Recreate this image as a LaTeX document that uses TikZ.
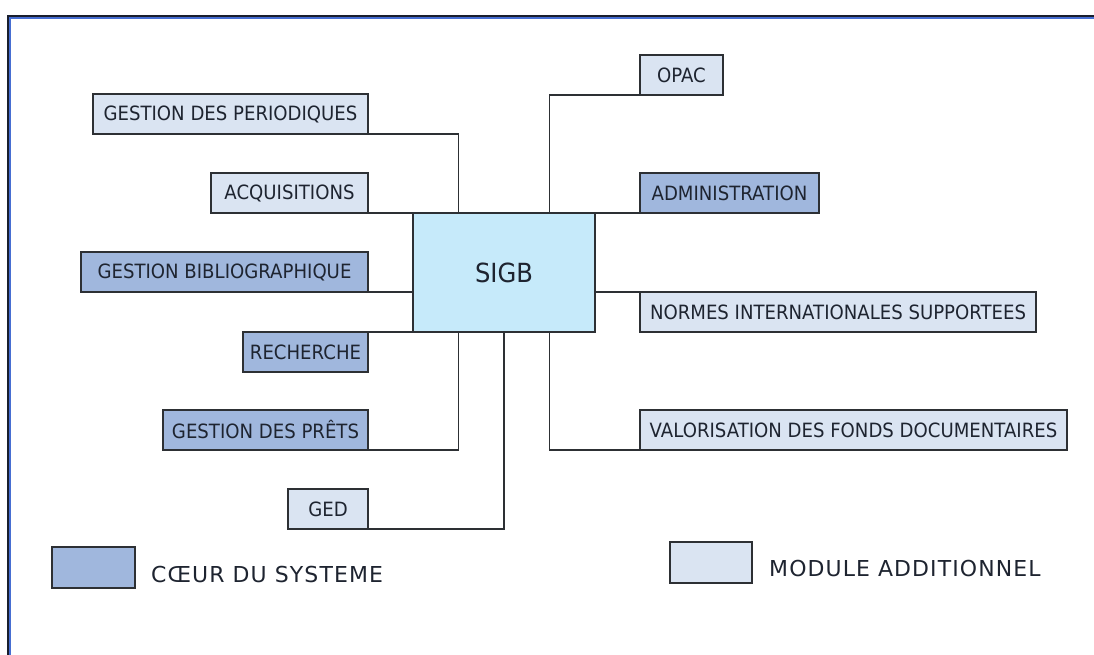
\documentclass[tikz,border=0pt]{standalone}
\usepackage{fontspec}
\setmainfont{DejaVu Sans}
\newfontfamily\boxfont[FakeStretch=0.92]{DejaVu Sans}
\newfontfamily\legendfont[LetterSpace=5]{DejaVu Sans}
\usetikzlibrary{positioning,calc}
\definecolor{sigbCyan}{RGB}{198,234,250}
\definecolor{coreBlue}{RGB}{160,183,221}
\definecolor{moduleBlue}{RGB}{218,228,242}
\definecolor{lineGray}{RGB}{45,48,52}
\definecolor{textNavy}{RGB}{30,36,48}
\definecolor{frameDark}{RGB}{25,30,45}
\definecolor{frameBlue}{RGB}{70,110,210}

\begin{document}
\begin{tikzpicture}[x=0.02cm, y=-0.02cm,
    box/.style={draw=lineGray, line width=0.9pt, text=textNavy, inner sep=0pt, outer sep=0pt, minimum height=0.8cm, font=\boxfont\fontsize{11.2}{13}\selectfont},
    core/.style={box, fill=coreBlue},
    module/.style={box, fill=moduleBlue},
    link/.style={draw=lineGray, line width=0.9pt},
    legend/.style={anchor=west, text=textNavy, font=\legendfont\fontsize{12.5}{15}\selectfont}]
  \useasboundingbox[fill=white] (0,0) rectangle (1094,655);
  % frame
  \draw[frameDark, line width=1.2pt] (8,655) -- (8,16) -- (1094,16);
  \draw[frameBlue, line width=0.6pt] (10,655) -- (10,18) -- (1094,18);

  % centre
  \node[box, fill=sigbCyan, minimum width=3.64cm, minimum height=2.38cm, font=\boxfont\fontsize{15}{17}\selectfont] (sigb) at (504,272.5) {SIGB};

  % left side
  \node[module, minimum width=5.5cm] (peri) at (230.5,114) {GESTION DES PERIODIQUES};
  \node[module, minimum width=3.14cm] (acq) at (289.5,193) {ACQUISITIONS};
  \node[core, minimum width=5.74cm] (biblio) at (224.5,272) {GESTION BIBLIOGRAPHIQUE};
  \node[core, minimum width=2.5cm] (rech) at (305.5,352) {RECHERCHE};
  \node[core, minimum width=4.1cm] (prets) at (265.5,430) {GESTION DES PRÊTS};
  \node[module, minimum width=1.6cm] (ged) at (328,509) {GED};

  % right side
  \node[module, minimum width=1.66cm] (opac) at (681.5,75) {OPAC};
  \node[core, minimum width=3.58cm] (admin) at (729.5,193) {ADMINISTRATION};
  \node[module, minimum width=7.92cm] (normes) at (838,312) {NORMES INTERNATIONALES SUPPORTEES};
  \node[module, minimum width=8.54cm] (valor) at (853.5,430) {VALORISATION DES FONDS DOCUMENTAIRES};

  % links
  \draw[link] (peri.south east) -| ($(sigb.north west)!.25!(sigb.north east)$);
  \draw[link] (acq.south east) -- (sigb.north west);
  \draw[link] (biblio.south east) -- (biblio.south east -| sigb.west);
  \draw[link] (rech.north east) -- (sigb.south west);
  \draw[link] (prets.south east) -| ($(sigb.south west)!.25!(sigb.south east)$);
  \draw[link] (ged.south east) -| (sigb.south);
  \draw[link] (opac.south west) -| ($(sigb.north west)!.75!(sigb.north east)$);
  \draw[link] (admin.south west) -- (sigb.north east);
  \draw[link] (normes.north west) -- (normes.north west -| sigb.east);
  \draw[link] (valor.south west) -| ($(sigb.south west)!.75!(sigb.south east)$);

  % legend
  \node[core, minimum width=1.66cm, minimum height=0.82cm] (kcore) at (93.5,567.5) {};
  \node[legend] (kcoretxt) at (145,574) {CŒUR DU SYSTEME};
  \node[module, minimum width=1.64cm, minimum height=0.82cm] (kmod) at (711,562.5) {};
  \node[legend] (kmodtxt) at (763,568) {MODULE ADDITIONNEL};
\end{tikzpicture}
\end{document}
